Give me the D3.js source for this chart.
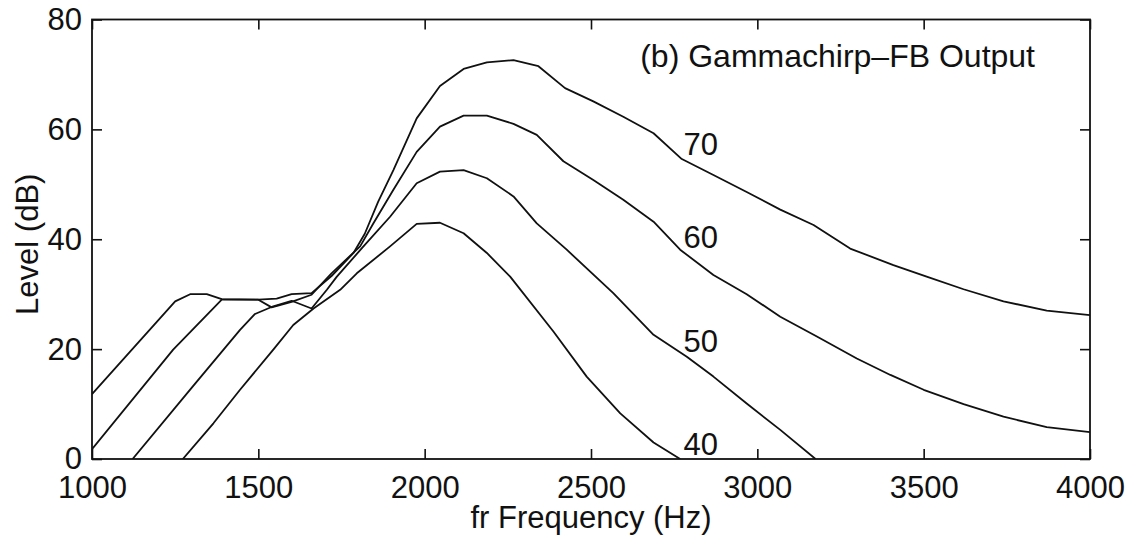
<!DOCTYPE html>
<html>
<head>
<meta charset="utf-8">
<script src="https://cdn.jsdelivr.net/npm/d3@7"></script>
<style>
  body { margin: 0; background: #fff; }
  svg text { font-family: "Liberation Sans", Arial, sans-serif; fill: #111; }
</style>
</head>
<body>
<svg width="1134" height="544"></svg>
<script>
// input levels (dB) labelling each curve
var inputLevels = [70, 60, 50, 40];

// [frequency Hz, level dB]
var curve70 = [[1000,11.8],[1250,28.7],[1295,30.0],[1345,30.0],[1390,29.1],[1500,29.0],[1555,29.2],[1600,30.0],[1660,30.2],
  [1720,33.3],[1786,37.5],[1820,41.0],[1860,46.8],[1906,52.6],[1976,62.0],[2046,67.9],[2117,71.0],[2187,72.2],[2267,72.6],
  [2342,71.5],[2422,67.5],[2507,65.1],[2597,62.3],[2688,59.3],[2773,54.6],[2868,51.7],[2968,48.6],[3069,45.4],[3169,42.6],
  [3279,38.3],[3409,35.3],[3509,33.2],[3620,30.9],[3740,28.7],[3870,27.0],[4000,26.2]];
var curve60 = [[1000,1.8],[1244,19.9],[1390,29.0],[1500,29.0],[1540,27.6],[1600,28.6],[1660,29.9],[1720,33.8],[1806,38.7],
  [1846,42.9],[1906,49.0],[1976,55.9],[2046,60.5],[2117,62.5],[2187,62.5],[2267,61.0],[2337,59.0],[2417,54.2],[2507,50.8],
  [2597,47.2],[2688,43.2],[2768,38.1],[2868,33.5],[2968,30.0],[3069,25.9],[3179,22.3],[3299,18.3],[3400,15.3],[3500,12.6],
  [3620,10.0],[3740,7.7],[3870,5.8],[4000,4.9]];
var curve50 = [[1122,0],[1300,13.0],[1445,23.5],[1490,26.4],[1545,27.8],[1600,28.8],[1660,27.4],[1706,30.8],[1736,33.2],
  [1816,38.7],[1896,44.1],[1976,50.2],[2046,52.3],[2117,52.6],[2187,51.1],[2267,47.8],[2337,42.9],[2427,38.1],[2567,30.2],
  [2688,22.6],[2788,18.6],[2868,15.0],[2968,10.1],[3069,5.3],[3175,0]];
var curve40 = [[1273,0],[1365,6.5],[1445,12.6],[1545,19.9],[1605,24.4],[1666,27.4],[1746,30.8],[1796,33.8],[1896,38.7],
  [1976,42.8],[2046,43.0],[2117,41.1],[2187,37.5],[2257,33.2],[2387,23.2],[2487,15.0],[2588,8.3],[2688,3.0],[2768,0]];
var curves = [curve70, curve60, curve50, curve40];

// where each curve's label sits (frequency, level)
var labelAt = [[2778, 55.4], [2778, 38.4], [2778, 19.5], [2778, 0.8]];

var xTicks = [1000, 1500, 2000, 2500, 3000, 3500, 4000];
var yTicks = [0, 20, 40, 60, 80];

var svg = d3.select("svg"),
    margin = {top: 19.5, right: 44, bottom: 85, left: 92},
    width = 1134 - margin.left - margin.right,
    height = 544 - margin.top - margin.bottom;

var g = svg.append("g")
    .attr("transform", "translate(" + margin.left + "," + margin.top + ")");

var x = d3.scaleLinear().domain([1000, 4000]).range([0, width]);
var y = d3.scaleLinear().domain([0, 80]).range([height, 0]);

g.append("clipPath").attr("id", "plotclip")
  .append("rect").attr("width", width).attr("height", height);

// axes, ticks point inward
var fs = "31px";
g.append("g")
    .attr("transform", "translate(0," + height + ")")
    .call(d3.axisBottom(x).tickValues(xTicks).tickSize(-10).tickPadding(17).tickFormat(d3.format("d")))
    .call(a => { a.select(".domain").remove(); a.selectAll("text").style("font-size", fs).attr("fill", "#111"); });
g.append("g")
    .call(d3.axisTop(x).tickValues(xTicks).tickSize(-10).tickFormat(""))
    .call(a => a.select(".domain").remove());
g.append("g")
    .call(d3.axisLeft(y).tickValues(yTicks).tickSize(-10).tickPadding(10))
    .call(a => { a.select(".domain").remove(); a.selectAll("text").style("font-size", fs).attr("fill", "#111"); });
g.append("g")
    .attr("transform", "translate(" + width + ",0)")
    .call(d3.axisRight(y).tickValues(yTicks).tickSize(-10).tickFormat(""))
    .call(a => a.select(".domain").remove());
g.selectAll(".tick line").attr("stroke", "#111").attr("stroke-width", 1.6);

g.append("rect")
    .attr("width", width).attr("height", height)
    .attr("fill", "none").attr("stroke", "#111").attr("stroke-width", 1.8);

var line = d3.line().x(d => x(d[0])).y(d => y(d[1]));

g.append("g").attr("clip-path", "url(#plotclip)")
  .selectAll("path")
  .data(curves)
  .enter()
  .append("path")
    .attr("d", line)
    .attr("fill", "none")
    .attr("stroke", "#111")
    .attr("stroke-width", 1.8)
    .attr("stroke-linejoin", "round");

g.selectAll(".lvl")
  .data(inputLevels)
  .enter()
  .append("text")
    .attr("class", "lvl")
    .attr("x", (d, i) => x(labelAt[i][0]))
    .attr("y", (d, i) => y(labelAt[i][1]))
    .style("font-size", fs)
    .text(d => d);

g.append("text")
    .attr("x", width - 55)
    .attr("y", 47)
    .attr("text-anchor", "end")
    .style("font-size", "32px")
    .text("(b) Gammachirp\u2013FB Output");

svg.append("text")
    .attr("x", margin.left + x(2500))
    .attr("y", 528)
    .attr("text-anchor", "middle")
    .style("font-size", fs)
    .text("fr Frequency (Hz)");

svg.append("text")
    .attr("transform", "translate(38," + (margin.top + height / 2 + 5) + ") rotate(-90)")
    .attr("text-anchor", "middle")
    .style("font-size", fs)
    .text("Level (dB)");
</script>
</body>
</html>
